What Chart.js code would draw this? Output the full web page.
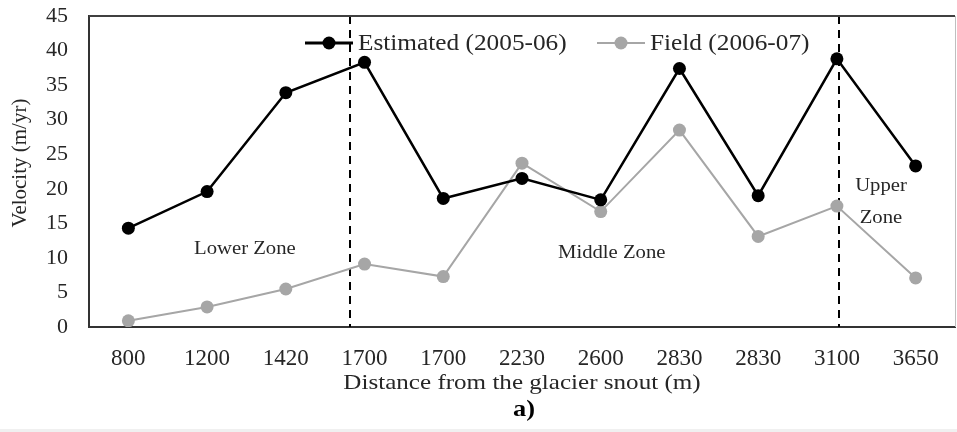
<!DOCTYPE html>
<html>
<head>
<meta charset="utf-8">
<script src="https://cdn.jsdelivr.net/npm/chart.js@4.4.1/dist/chart.umd.min.js"></script>
<style>
  html, body { margin: 0; padding: 0; background: #fff; }
  #wrap { position: relative; width: 957px; height: 432px; }
  #strip { position: absolute; left: 0; bottom: 0; width: 957px; height: 3px; background: #f0f0f0; }
</style>
</head>
<body>
<div id="wrap">
  <canvas id="chart-velocity" width="957" height="432"></canvas>
  <div id="strip"></div>
</div>
<script>
// Glacier surface velocity along the centre line

const distances = ['800', '1200', '1420', '1700', '1700', '2230', '2600', '2830', '2830', '3100', '3650'];
const estimated = [14.3, 19.6, 33.9, 38.3, 18.6, 21.5, 18.4, 37.4, 19.0, 38.8, 23.3];
const field = [0.9, 2.9, 5.5, 9.1, 7.3, 23.7, 16.7, 28.5, 13.1, 17.5, 7.1];
const seriesNames = ['Estimated (2005-06)', 'Field (2006-07)'];
const yTicks = { min: 0, max: 45, step: 5 };

// zone boundaries, in category index units
const zoneBounds = [2.82, 9.03];
const zoneNames = ['Lower Zone', 'Middle Zone', 'Upper', 'Zone'];

const FONT = "'Liberation Serif', 'Times New Roman', serif";
const BLACK = '#000000';
const GREY = '#a6a6a6';
const TEXT = '#262626';

// the source figure is a little wider than tall, so text is stretched a bit
function stretchedText(ctx, text, x, y, font, sx, align) {
  ctx.save();
  ctx.translate(x, y);
  ctx.scale(sx, 1);
  ctx.font = font;
  ctx.textAlign = align;
  ctx.textBaseline = 'middle';
  ctx.fillText(text, 0, 0);
  ctx.restore();
}

// dashed zone lines, frame, zone labels, legend and titles
const overlayPlugin = {
  id: 'overlay',
  beforeDatasetsDraw(chart) {
    const { ctx, chartArea: a, scales: { x, y } } = chart;
    ctx.save();
    ctx.strokeStyle = '#000';
    ctx.lineWidth = 2;
    ctx.setLineDash([8, 6]);
    zoneBounds.forEach(v => {
      const px = Math.round(x.getPixelForValue(v));
      ctx.beginPath();
      ctx.moveTo(px, a.top);
      ctx.lineTo(px, a.bottom);
      ctx.stroke();
    });
    ctx.setLineDash([]);

    // top and right frame
    ctx.strokeStyle = '#404040';
    ctx.lineWidth = 2;
    ctx.beginPath();
    ctx.moveTo(a.left, a.top);
    ctx.lineTo(a.right, a.top);
    ctx.stroke();
    ctx.strokeStyle = '#bfbfbf';
    ctx.lineWidth = 1;
    ctx.beginPath();
    ctx.moveTo(a.right + 0.5, a.top);
    ctx.lineTo(a.right + 0.5, a.bottom);
    ctx.stroke();

    // zone labels
    ctx.fillStyle = TEXT;
    const zf = '18px ' + FONT;
    stretchedText(ctx, zoneNames[0], x.getPixelForValue(1.48), y.getPixelForValue(11.3), zf, 1.15, 'center');
    stretchedText(ctx, zoneNames[1], x.getPixelForValue(6.14), y.getPixelForValue(10.7), zf, 1.15, 'center');
    stretchedText(ctx, zoneNames[2], x.getPixelForValue(9.56), y.getPixelForValue(20.4), zf, 1.15, 'center');
    stretchedText(ctx, zoneNames[3], x.getPixelForValue(9.56), y.getPixelForValue(15.7), zf, 1.15, 'center');
    ctx.restore();
  },
  afterDraw(chart) {
    const { ctx, chartArea: a } = chart;
    ctx.save();
    const items = [
      { text: seriesNames[0], color: BLACK, x: 305, width: 3 },
      { text: seriesNames[1], color: GREY, x: 597, width: 2 }
    ];
    const ly = 43;
    items.forEach(it => {
      ctx.strokeStyle = it.color;
      ctx.lineWidth = it.width;
      ctx.beginPath();
      ctx.moveTo(it.x, ly);
      ctx.lineTo(it.x + 48, ly);
      ctx.stroke();
      ctx.fillStyle = it.color;
      ctx.beginPath();
      ctx.arc(it.x + 24, ly, 6.5, 0, Math.PI * 2);
      ctx.fill();
      ctx.fillStyle = TEXT;
      stretchedText(ctx, it.text, it.x + 53, ly + 1, '23px ' + FONT, 1.1, 'left');
    });

    // axis titles
    ctx.fillStyle = TEXT;
    stretchedText(ctx, 'Distance from the glacier snout (m)', (a.left + a.right) / 2, 383, '22px ' + FONT, 1.14, 'center');

    ctx.save();
    ctx.translate(20, 163);
    ctx.rotate(-Math.PI / 2);
    ctx.font = '21px ' + FONT;
    ctx.textAlign = 'center';
    ctx.textBaseline = 'middle';
    ctx.fillText('Velocity (m/yr)', 0, 0);
    ctx.restore();

    ctx.fillStyle = '#000';
    stretchedText(ctx, 'a)', 524, 410, 'bold 24px ' + FONT, 1.1, 'center');
    ctx.restore();
  }
};

const ctx = document.getElementById('chart-velocity');

new Chart(ctx, {
  type: 'line',
  data: {
    labels: distances,
    datasets: [
      {
        label: seriesNames[0],
        data: estimated,
        borderColor: BLACK,
        backgroundColor: BLACK,
        borderWidth: 2.5,
        pointRadius: 6.5,
        pointHoverRadius: 6.5,
        pointBorderWidth: 0,
        tension: 0,
        order: 1
      },
      {
        label: seriesNames[1],
        data: field,
        borderColor: GREY,
        backgroundColor: GREY,
        borderWidth: 2,
        pointRadius: 6.5,
        pointHoverRadius: 6.5,
        pointBorderWidth: 0,
        tension: 0,
        order: 2
      }
    ]
  },
  options: {
    responsive: false,
    animation: false,
    devicePixelRatio: 1,
    layout: { autoPadding: false, padding: { left: 0, right: 2, top: 16, bottom: 0 } },
    plugins: {
      legend: { display: false },
      tooltip: { enabled: false }
    },
    scales: {
      x: {
        offset: true,
        grid: { display: false, drawTicks: false },
        border: { display: true, color: '#333333', width: 2 },
        ticks: {
          color: TEXT,
          padding: 18,
          maxRotation: 0,
          autoSkip: false,
          font: { family: FONT, size: 23 }
        },
        title: { display: false },
        afterFit(scale) {
          scale.height = 105;
          scale.paddingLeft = 0;
          scale.paddingRight = 0;
        }
      },
      y: {
        min: yTicks.min,
        max: yTicks.max,
        grid: { display: false, drawTicks: false },
        border: { display: true, color: '#333333', width: 2 },
        ticks: {
          stepSize: yTicks.step,
          color: TEXT,
          padding: 21,
          font: { family: FONT, size: 22 }
        },
        title: { display: false },
        afterFit(scale) {
          scale.width = 89;
          scale.paddingTop = 10;
          scale.paddingBottom = 10;
        }
      }
    }
  },
  plugins: [overlayPlugin]
});
</script>
</body>
</html>
